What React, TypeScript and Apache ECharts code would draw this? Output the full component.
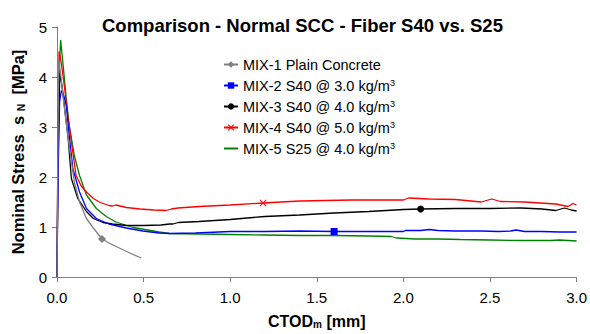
import React, { useEffect, useRef } from "react";
import * as echarts from "echarts";

const titleText = "Comparison - Normal SCC - Fiber S40 vs. S25";
const xTicks = [0, 0.5, 1, 1.5, 2, 2.5, 3];

const names = [
  "MIX-1 Plain Concrete",
  "MIX-2 S40 @ 3.0 kg/m3",
  "MIX-3 S40 @ 4.0 kg/m3",
  "MIX-4 S40 @ 5.0 kg/m3",
  "MIX-5 S25 @ 4.0 kg/m3",
];

const mix1X = [0, 0.004, 0.01, 0.02, 0.04, 0.06, 0.073, 0.10, 0.13, 0.17, 0.21, 0.26, 0.30, 0.36, 0.42, 0.486];
const mix1Y = [0, 2.2, 4.35, 4.1, 3.45, 2.9, 2.56, 1.90, 1.50, 1.17, 0.98, 0.76, 0.68, 0.58, 0.48, 0.38];
const mix1Mark = 11;

const mix2X = [0, 0.006, 0.015, 0.025, 0.04, 0.054, 0.07, 0.092, 0.13, 0.17, 0.227, 0.30, 0.40, 0.495, 0.59, 0.65, 0.80, 1.0, 1.2, 1.4, 1.6, 1.8, 2.0, 2.01, 2.1, 2.15, 2.2, 2.3, 2.45, 2.55, 2.62, 2.65, 2.7, 2.8, 2.9, 3.0];
const mix2Y = [0, 2.0, 3.5, 3.73, 3.62, 3.42, 2.85, 2.16, 1.70, 1.37, 1.17, 1.06, 0.98, 0.92, 0.88, 0.87, 0.88, 0.91, 0.91, 0.92, 0.91, 0.91, 0.91, 0.93, 0.93, 0.95, 0.93, 0.92, 0.92, 0.91, 0.92, 0.94, 0.91, 0.91, 0.90, 0.90];
const mix2Mark = 20;

const mix3X = [0, 0.006, 0.016, 0.03, 0.05, 0.065, 0.083, 0.12, 0.17, 0.21, 0.265, 0.32, 0.40, 0.50, 0.60, 0.65, 0.67, 0.70, 0.82, 1.0, 1.2, 1.4, 1.6, 1.8, 2.0, 2.1, 2.3, 2.5, 2.68, 2.8, 2.88, 2.93, 2.97, 3.0];
const mix3Y = [0, 2.3, 4.08, 3.8, 3.2, 2.75, 1.97, 1.57, 1.31, 1.17, 1.09, 1.06, 1.03, 1.03, 1.04, 1.06, 1.06, 1.09, 1.11, 1.15, 1.21, 1.24, 1.28, 1.31, 1.35, 1.36, 1.37, 1.37, 1.38, 1.36, 1.33, 1.38, 1.34, 1.32];
const mix3Mark = 25;

const mix4X = [0, 0.005, 0.012, 0.025, 0.045, 0.063, 0.08, 0.11, 0.14, 0.17, 0.21, 0.25, 0.30, 0.32, 0.34, 0.40, 0.48, 0.56, 0.63, 0.66, 0.70, 0.82, 1.0, 1.19, 1.4, 1.7, 2.0, 2.03, 2.15, 2.3, 2.45, 2.51, 2.56, 2.7, 2.88, 2.95, 2.98, 3.0];
const mix4Y = [0, 2.5, 4.51, 4.28, 3.75, 3.22, 2.78, 2.03, 1.82, 1.70, 1.57, 1.49, 1.43, 1.42, 1.44, 1.39, 1.36, 1.34, 1.33, 1.36, 1.38, 1.41, 1.44, 1.48, 1.52, 1.54, 1.54, 1.58, 1.56, 1.55, 1.50, 1.56, 1.51, 1.50, 1.46, 1.41, 1.47, 1.44];
const mix4Mark = 23;

const mix5X = [0, 0.004, 0.01, 0.021, 0.035, 0.054, 0.07, 0.10, 0.13, 0.17, 0.227, 0.284, 0.34, 0.44, 0.59, 0.65, 0.82, 1.0, 1.2, 1.4, 1.6, 1.8, 1.93, 1.96, 2.07, 2.2, 2.33, 2.5, 2.68, 2.85, 2.9, 3.0];
const mix5Y = [0, 1.8, 3.9, 4.74, 4.25, 3.55, 3.05, 2.43, 2.03, 1.64, 1.37, 1.21, 1.10, 0.99, 0.90, 0.87, 0.86, 0.85, 0.84, 0.83, 0.83, 0.82, 0.81, 0.78, 0.76, 0.76, 0.75, 0.74, 0.73, 0.73, 0.74, 0.72];
const mix5Mark = -1;

const FONT = "'Liberation Sans', Arial, sans-serif";
const X_SYMBOL = "path://M0,1L1,0L5,4L9,0L10,1L6,5L10,9L9,10L5,6L1,10L0,9L4,5Z";

function build(xs: number[], ys: number[], mark: number) {
  return xs.map((x, i) =>
    i === mark ? { value: [x, ys[i]] } : { value: [x, ys[i]], symbol: "none" }
  );
}

export default function App() {
  const ref = useRef<HTMLDivElement>(null);
  useEffect(() => {
    if (!ref.current) return;
    const chart = echarts.init(ref.current, undefined, { renderer: "svg" });
    const specs = [
      { xs: mix1X, ys: mix1Y, m: mix1Mark, color: "#808080", symbol: "diamond", size: 8 },
      { xs: mix2X, ys: mix2Y, m: mix2Mark, color: "#0000ff", symbol: "rect", size: 7 },
      { xs: mix3X, ys: mix3Y, m: mix3Mark, color: "#000000", symbol: "circle", size: 7 },
      { xs: mix4X, ys: mix4Y, m: mix4Mark, color: "#ff0000", symbol: X_SYMBOL, size: 7 },
      { xs: mix5X, ys: mix5Y, m: mix5Mark, color: "#008000", symbol: "none", size: 0 },
    ];
    chart.setOption({
      animation: false,
      backgroundColor: "#ffffff",
      textStyle: { fontFamily: FONT },
      title: {
        text: titleText,
        left: 97,
        top: 11,
        textStyle: { fontSize: 18.5, fontWeight: "bold", color: "#000", fontFamily: FONT },
      },
      grid: { left: 57, right: 12, top: 27, bottom: 55 },
      legend: {
        orient: "vertical",
        left: 218,
        top: 52,
        itemWidth: 14,
        itemHeight: 8,
        itemGap: 6,
        data: names.map((n, i) =>
          i === 4 ? { name: n, itemStyle: { opacity: 0, color: "transparent", borderWidth: 0 } } : { name: n }
        ),
        formatter: (n: string) => n.replace(/m3$/, "m{sup|3}"),
        textStyle: {
          fontSize: 14.5,
          color: "#000",
          fontFamily: FONT,
          rich: { sup: { fontSize: 9, verticalAlign: "top", lineHeight: 10, fontFamily: FONT, color: "#000" } },
        },
      },
      xAxis: {
        type: "value",
        min: 0,
        max: 3,
        interval: 0.5,
        name: "CTOD{sub|m} [mm]",
        nameLocation: "middle",
        nameGap: 36,
        nameTextStyle: {
          fontSize: 16,
          fontWeight: "bold",
          color: "#000",
          fontFamily: FONT,
          rich: { sub: { fontSize: 10, fontWeight: "bold", verticalAlign: "bottom", padding: [6, 0, 0, 0], fontFamily: FONT } },
        },
        axisLine: { lineStyle: { color: "#808080", width: 1 } },
        axisTick: { show: true, length: 5, inside: false, lineStyle: { color: "#808080" } },
        axisLabel: {
          fontSize: 15,
          color: "#000",
          margin: 13,
          fontFamily: FONT,
          formatter: (v: number) => (xTicks.includes(v) ? v.toFixed(1) : ""),
        },
        splitLine: { show: false },
      },
      yAxis: {
        type: "value",
        min: 0,
        max: 5,
        interval: 1,
        name: "Nominal Stress  s {sub|N}  [MPa]",
        nameLocation: "middle",
        nameGap: 31,
        nameTextStyle: {
          fontSize: 16.5,
          fontWeight: "bold",
          color: "#000",
          fontFamily: FONT,
          rich: { sub: { fontSize: 10.5, fontWeight: "bold", verticalAlign: "bottom", fontFamily: FONT } },
        },
        axisLine: { show: true, lineStyle: { color: "#808080", width: 1 } },
        axisTick: { show: true, length: 5, inside: false, lineStyle: { color: "#808080" } },
        axisLabel: { fontSize: 15, color: "#000", margin: 10, fontFamily: FONT },
        splitLine: { show: false },
      },
      series: specs.map((s, i) => ({
        type: "line",
        name: names[i],
        data: build(s.xs, s.ys, s.m),
        symbol: s.symbol,
        symbolSize: s.size,
        showSymbol: true,
        color: s.color,
        lineStyle: { color: s.color, width: 1.3 },
        itemStyle: { color: s.color },
        z: 10 - i,
      })),
    });
    return () => chart.dispose();
  }, []);
  return (
    <div
      ref={ref}
      style={{ position: "fixed", left: 0, top: 0, width: 590, height: 334 }}
    />
  );
}
